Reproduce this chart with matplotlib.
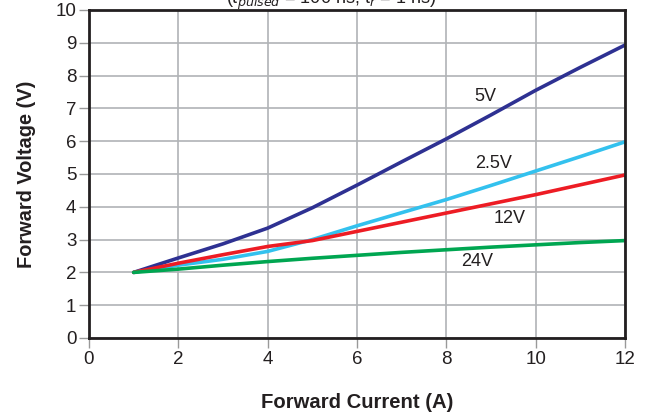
import matplotlib.pyplot as plt

plt.rcParams['font.family'] = ['Liberation Sans', 'DejaVu Sans']

current = [1, 2, 3, 4, 5, 6, 7, 8, 9, 10, 11, 12]
v_5 = [2.0, 2.44, 2.87, 3.35, 3.97, 4.66, 5.37, 6.07, 6.8, 7.55, 8.25, 8.93]
v_2_5 = [2.0, 2.22, 2.4, 2.64, 3.0, 3.42, 3.82, 4.22, 4.65, 5.09, 5.53, 5.98]
v_12 = [2.0, 2.28, 2.54, 2.79, 2.97, 3.25, 3.53, 3.81, 4.09, 4.37, 4.67, 4.97]
v_24 = [2.0, 2.1, 2.22, 2.33, 2.43, 2.52, 2.61, 2.69, 2.77, 2.84, 2.91, 2.97]

series = [
    ('5V', v_5, '#2e3192', (8.87, 7.35)),
    ('2.5V', v_2_5, '#33c1ee', (9.05, 5.33)),
    ('12V', v_12, '#ed1c24', (9.42, 3.63)),
    ('24V', v_24, '#00a651', (8.7, 2.32)),
]
txt = '#231f20'

fig = plt.figure(figsize=(6.52, 4.16), dpi=100)
ax = fig.add_axes([0.1365, 0.1875, 0.822, 0.7885])

for name, vals, color, pos in series:
    ax.plot(current, vals, color=color, lw=2.6, solid_capstyle='round',
            solid_joinstyle='round')
    ax.text(pos[0], pos[1], name, fontsize=13, ha='center', va='center', color=txt)

ax.set_xlim(0, 12)
ax.set_ylim(0, 10)
ax.set_xticks(range(0, 13, 2))
ax.set_yticks(range(0, 11))
ax.grid(True, color='#b0b3b6', lw=1.2)
ax.tick_params(labelsize=13.5, length=7, width=1, color='#999999', labelcolor=txt,
               direction='out', pad=2)
for s in ax.spines.values():
    s.set_linewidth(2)
    s.set_color(txt)
ax.set_xlabel('Forward Current (A)', fontsize=14.6, fontweight='bold', labelpad=18,
              color=txt)
ax.set_ylabel('Forward Voltage (V)', fontsize=14.4, fontweight='bold', labelpad=14,
              color=txt)

fig.text(0.508, 0.99, '(t$_{pulsed}$ = 100 ns, t$_r$ = 1 ns)', fontsize=13,
         ha='center', va='baseline', color=txt)

fig.savefig('out.png', dpi=100)
